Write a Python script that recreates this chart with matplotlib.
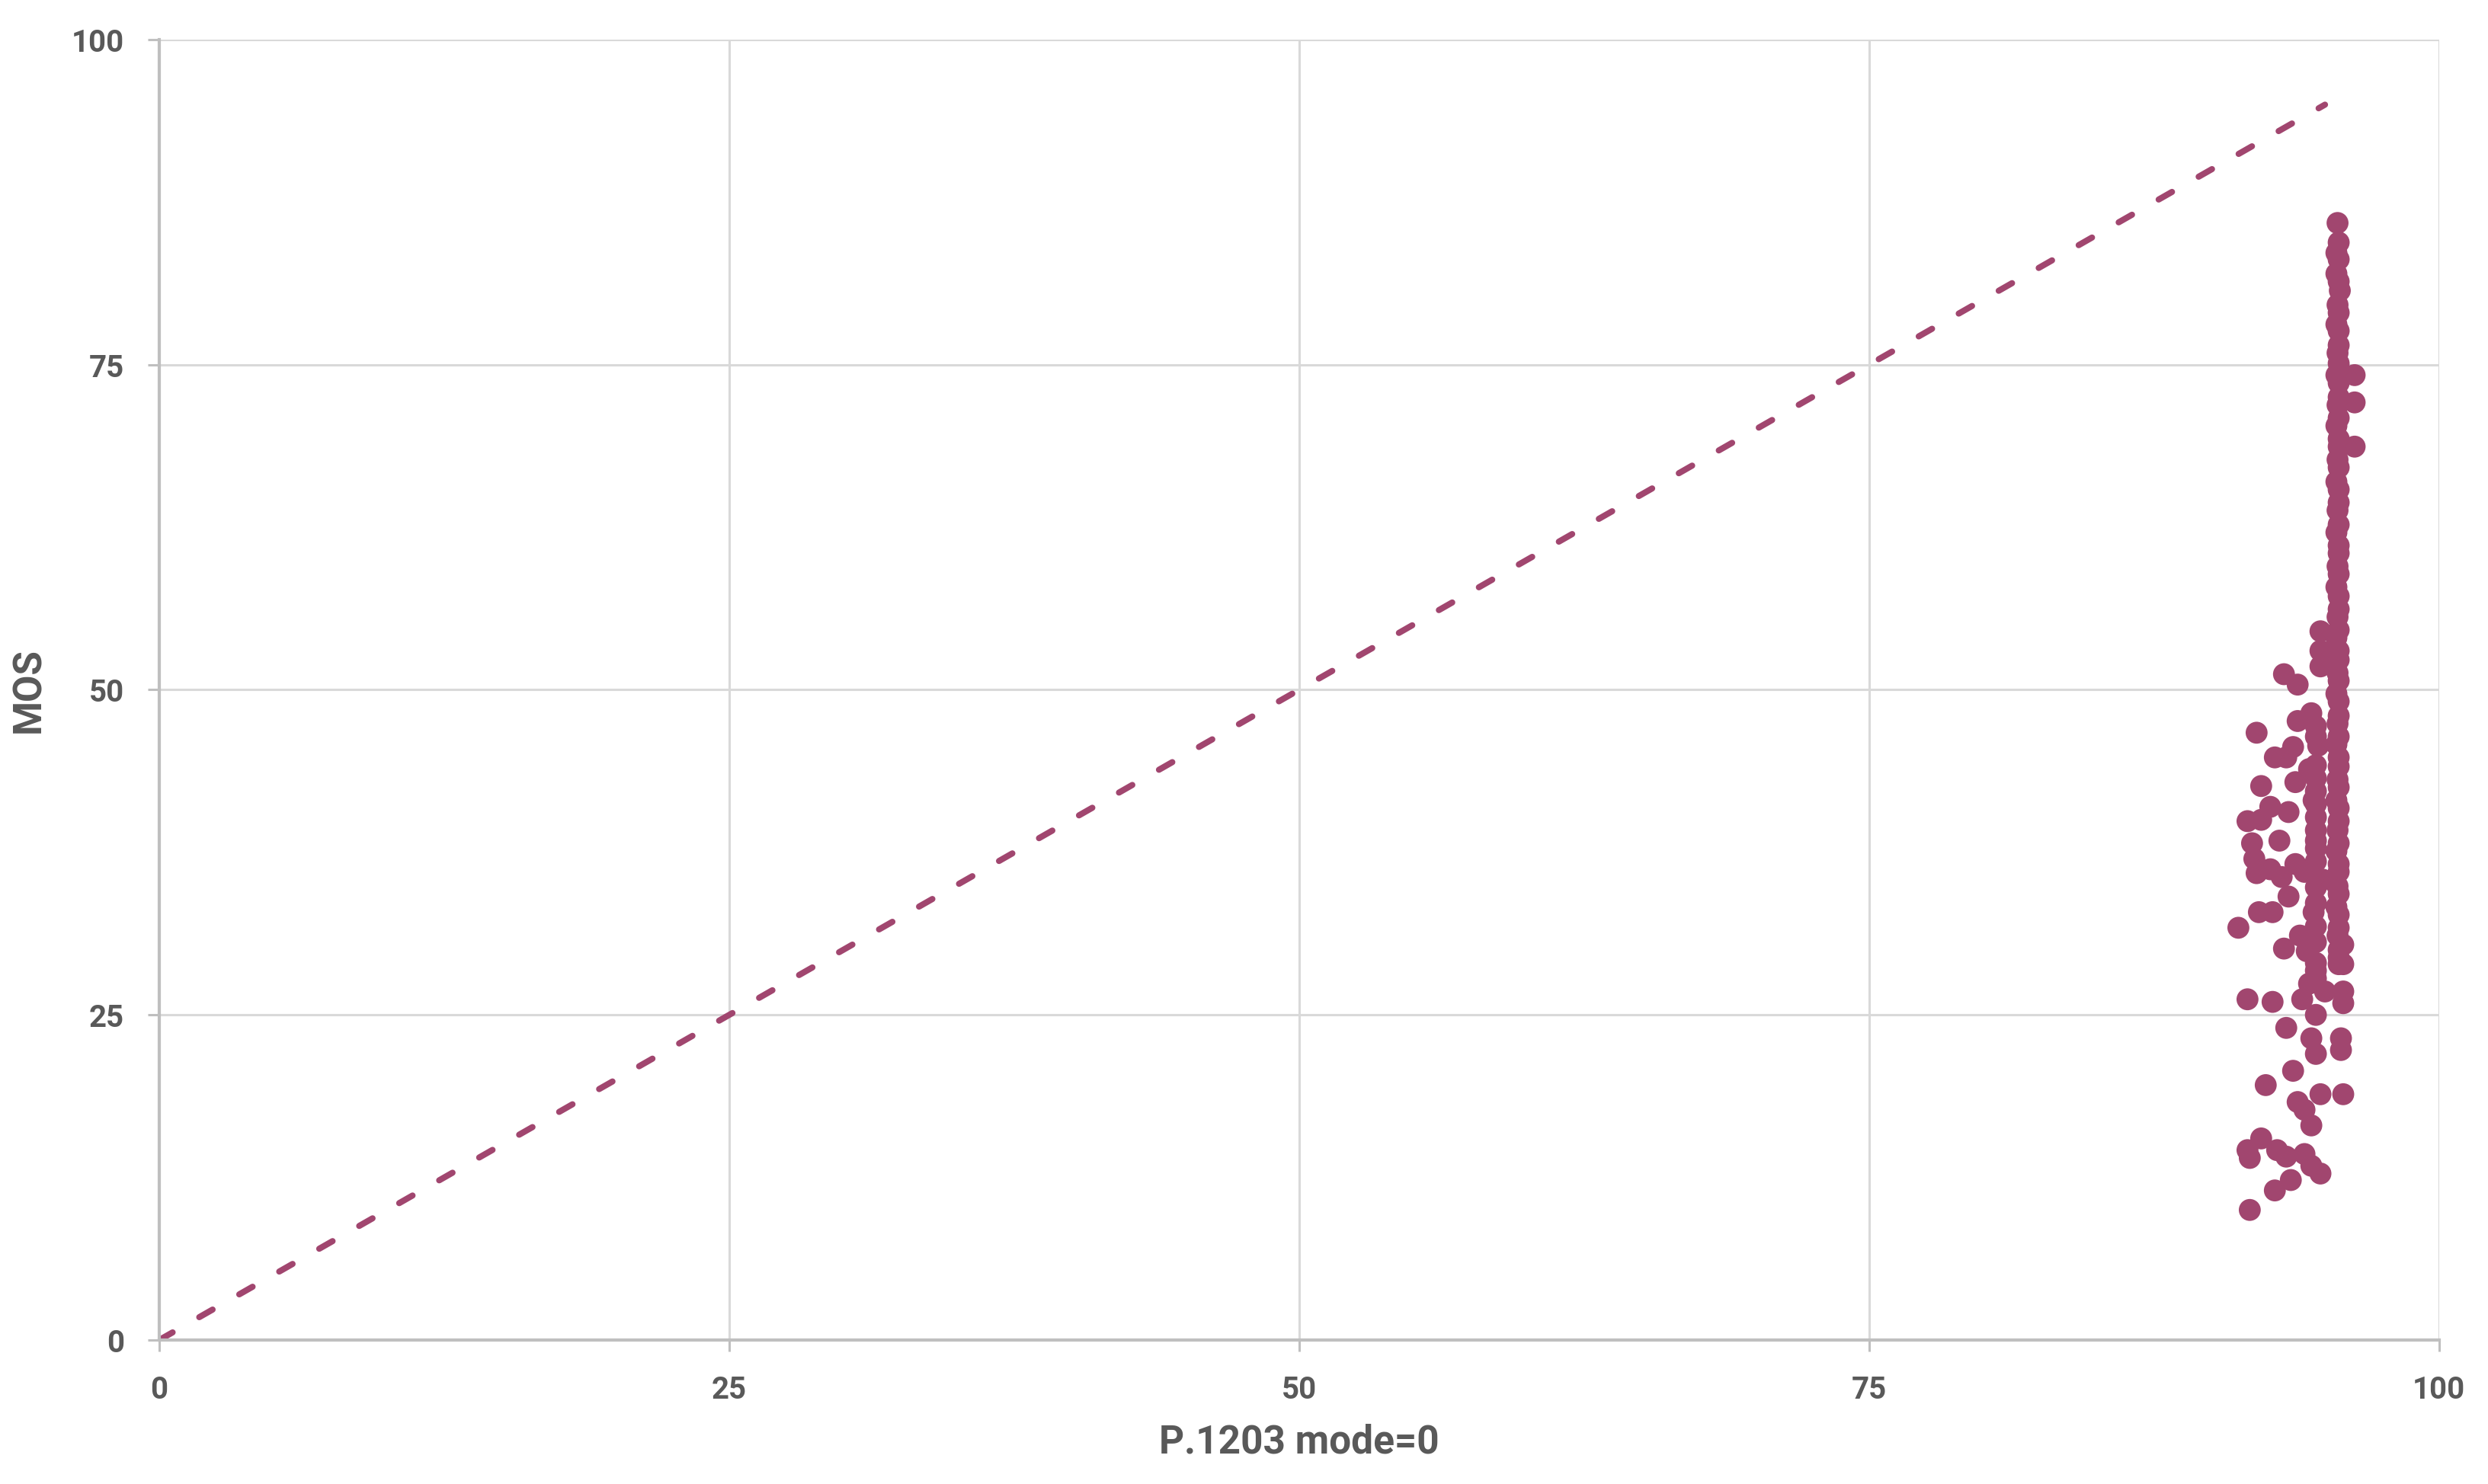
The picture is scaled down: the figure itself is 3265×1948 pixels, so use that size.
"""
P.1203 mode=0 vs MOS scatter
"""
import matplotlib
matplotlib.use("Agg")
import matplotlib.pyplot as plt

# main vertical column of points near 95.6
col_x = [95.55, 95.6, 95.5, 95.6, 95.5, 95.6, 95.65, 95.55, 95.6, 95.5,
         95.6, 95.6, 95.55, 95.6, 95.5, 95.6, 95.6, 95.55, 95.6, 95.5,
         95.6, 95.6, 95.55, 95.6, 95.5, 95.6, 95.6, 95.55, 95.6, 95.5,
         95.6, 95.6, 95.55, 95.6, 95.5, 95.6, 95.6, 95.55, 95.6, 95.5,
         95.6, 95.6, 95.55, 95.6, 95.5, 95.6, 95.6, 95.55, 95.6, 95.5,
         95.6, 95.6, 95.55, 95.6, 95.5, 95.6, 95.6, 95.55, 95.6, 95.5,
         95.6, 95.6, 95.55, 95.6, 95.5, 95.6, 95.6, 95.55, 95.6, 95.6,
         95.6]
col_y = [85.9, 84.4, 83.6, 83.1, 82.0, 81.4, 80.7, 79.6, 79.0, 78.1,
         77.6, 76.5, 75.9, 75.1, 74.2, 73.6, 72.5, 71.9, 70.9, 70.3,
         69.3, 68.7, 67.7, 67.1, 66.0, 65.4, 64.4, 63.8, 62.7, 62.1,
         61.1, 60.5, 59.5, 58.9, 57.9, 57.2, 56.2, 55.6, 54.6, 54.0,
         53.0, 52.3, 51.3, 50.7, 49.7, 49.1, 48.0, 47.4, 46.4, 45.8,
         44.8, 44.1, 43.1, 42.5, 41.5, 40.9, 39.9, 39.2, 38.2, 37.6,
         36.6, 36.0, 34.9, 34.3, 33.3, 32.7, 31.7, 31.1, 30.0, 29.4,
         28.9]

# points sticking out to the right / below the column
side_x = [96.3, 96.3, 96.3, 95.8, 95.7, 95.7, 95.8, 95.8, 95.8, 95.8]
side_y = [74.2, 72.1, 68.7, 18.9, 22.3, 23.2, 25.9, 26.8, 28.9, 30.4]

# scattered points left of the column
scat_x = [91.2, 91.6, 91.6, 91.7, 91.7, 91.6, 91.8, 91.9, 92.0, 92.0,
          92.1, 92.2, 92.2, 92.2, 92.4, 92.6, 92.6, 92.7, 92.7, 92.8,
          92.8, 92.9, 93.0, 93.1, 93.2, 93.2, 93.3, 93.3, 93.3, 93.4,
          93.4, 93.5, 93.6, 93.6, 93.7, 93.7, 93.8, 93.8, 93.8, 93.9,
          94.0, 94.1, 94.1, 94.1, 94.2, 94.3, 94.3, 94.4, 94.4, 94.4,
          94.4, 94.5, 94.5, 94.6, 94.6, 94.6, 94.6, 94.7, 94.8, 94.8,
          94.8, 94.8, 94.8, 94.9, 95.0,
          94.6, 94.6, 94.6, 94.6, 94.6, 94.6, 94.6, 94.6, 94.6, 94.6,
          94.6, 94.6, 94.6, 94.6, 94.6, 94.6]
scat_y = [31.7, 26.2, 14.6, 10.0, 14.0, 39.9, 38.2, 37.0, 46.7, 35.9,
          32.9, 40.0, 42.6, 15.5, 19.6, 41.0, 36.2, 26.0, 32.9, 44.8,
          11.5, 14.6, 38.4, 35.6, 30.1, 51.2, 24.0, 14.1, 44.8, 34.1,
          40.6, 12.3, 20.7, 45.6, 42.9, 36.6, 18.3, 50.4, 47.6, 31.1,
          26.2, 17.7, 14.3, 36.0, 29.9, 43.9, 27.4, 48.2, 23.2, 16.5,
          13.4, 41.5, 32.9, 25.0, 22.0, 29.0, 38.4, 45.7, 54.5, 53.0,
          51.8, 18.9, 12.8, 35.4, 26.8,
          27.8, 30.6, 31.8, 33.6, 34.8, 36.8, 37.8, 39.2, 40.2, 41.2,
          42.2, 43.2, 44.2, 46.4, 47.2, 28.4]

ref_line = [0, 95]

ticks = [0, 25, 50, 75, 100]

col = '#A1466F'
grey = '#595959'

plt.rcParams['font.family'] = ['Roboto', 'DejaVu Sans']

fig = plt.figure(figsize=(32.66, 19.49), dpi=100)
ax = fig.add_axes([0.064, 0.097, 0.916, 0.8758])

ax.plot(ref_line, ref_line, color=col, lw=5.8, ls=(0, (2.5, 5.0)),
        dash_capstyle='round', zorder=2)
ax.scatter(col_x + side_x + scat_x, col_y + side_y + scat_y, s=430,
           color=col, edgecolors='none', zorder=3)

ax.set_xlim(0, 100)
ax.set_ylim(0, 100)
ax.set_xticks(ticks)
ax.set_yticks(ticks)
ax.grid(True, color='#D9D9D9', lw=2.2, zorder=0)
ax.set_axisbelow(True)
for s in ['top', 'right']:
    ax.spines[s].set_visible(False)
for s in ['left', 'bottom']:
    ax.spines[s].set_color('#BFBFBF')
    ax.spines[s].set_linewidth(3)
ax.tick_params(length=11, width=2.2, color='#BFBFBF', labelsize=29,
               labelcolor=grey, pad=22)
for lab in ax.get_xticklabels() + ax.get_yticklabels():
    lab.set_fontweight('semibold')

ax.set_xlabel('P.1203 mode=0', fontsize=37, fontweight='bold', color=grey,
              labelpad=18)
ax.set_ylabel('MOS', fontsize=37, fontweight='bold', color=grey, labelpad=22)

plt.savefig('out.png', dpi=100)
